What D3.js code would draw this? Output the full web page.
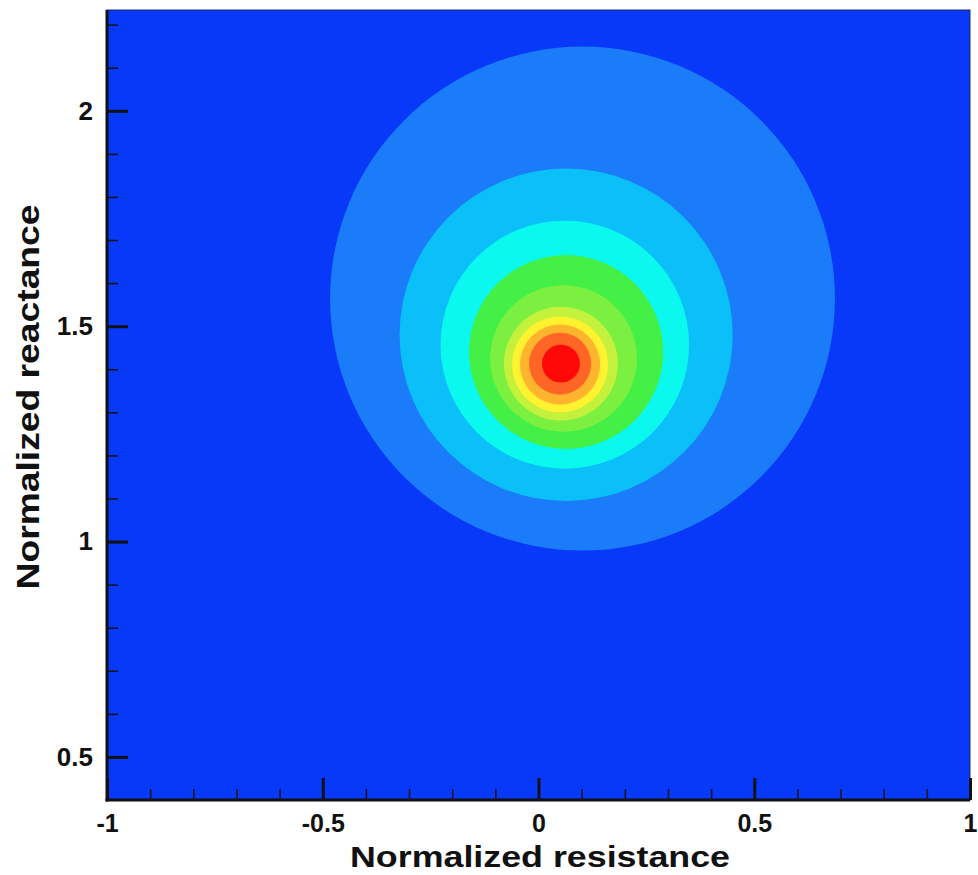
<!DOCTYPE html>
<html>
<head>
<meta charset="utf-8">
<script src="https://cdn.jsdelivr.net/npm/d3@7"></script>
<style>
  html, body { margin: 0; padding: 0; background: #fff; }
  text { font-family: "Liberation Sans", Arial, Helvetica, sans-serif; font-weight: bold; fill: #111; }
</style>
</head>
<body>
<svg id="chart" width="978" height="875"></svg>
<script>
// tick labels
var xTicks = [-1, -0.5, 0, 0.5, 1];
var yTicks = [0.5, 1, 1.5, 2];

// contour bands, outermost first (boundary circle of each level)
var bandColors = ["#1a7cf8", "#0bbff8", "#0af8ee", "#44f046", "#7cf040", "#c4f23c", "#fff22e", "#ffb42e", "#ff6626", "#ff0808"];
var bandCx     = [0.102, 0.064, 0.061, 0.064, 0.058, 0.052, 0.050, 0.050, 0.050, 0.052];
var bandCy     = [1.564, 1.480, 1.457, 1.440, 1.425, 1.413, 1.411, 1.411, 1.413, 1.413];
var bandR      = [0.585, 0.386, 0.288, 0.225, 0.170, 0.132, 0.111, 0.093, 0.072, 0.044];
var background = "#0838f8";

var svg = d3.select("#chart");

var x = d3.scaleLinear().domain([-1, 1]).range([107, 970]);
var y = d3.scaleLinear().domain([0.4, 2.234]).range([800, 10]);

var bands = bandColors.map(function(c, i) {
  return { color: c, cx: bandCx[i], cy: bandCy[i], r: bandR[i] };
});

var fmt = function(d) { return String(d); };

svg.append("defs").append("clipPath").attr("id", "plot")
  .append("rect")
  .attr("x", x(-1)).attr("y", y(2.234))
  .attr("width", x(1) - x(-1)).attr("height", y(0.4) - y(2.234));

var plot = svg.append("g").attr("clip-path", "url(#plot)");

plot.append("rect")
  .attr("x", x(-1)).attr("y", y(2.234))
  .attr("width", x(1) - x(-1)).attr("height", y(0.4) - y(2.234))
  .attr("fill", background);

plot.selectAll("ellipse.band")
  .data(bands)
  .enter().append("ellipse")
  .attr("class", "band")
  .attr("cx", function(d) { return x(d.cx); })
  .attr("cy", function(d) { return y(d.cy); })
  .attr("rx", function(d) { return x(d.cx + d.r) - x(d.cx); })
  .attr("ry", function(d) { return y(d.cy) - y(d.cy + d.r); })
  .attr("fill", function(d) { return d.color; });

// thin frame on top / right
svg.append("rect")
  .attr("x", x(-1)).attr("y", y(2.234))
  .attr("width", x(1) - x(-1)).attr("height", y(0.4) - y(2.234))
  .attr("fill", "none").attr("stroke", "#1b2a66").attr("stroke-width", 1);

// minor ticks every 0.1
var xMinor = d3.range(-10, 11).map(function(v) { return v / 10; });
var yMinor = d3.range(5, 23).map(function(v) { return v / 10; });

svg.append("g")
  .attr("transform", "translate(0," + y(0.4) + ")")
  .call(d3.axisBottom(x).tickValues(xMinor).tickSize(-11).tickFormat(""))
  .call(function(g) { g.select(".domain").remove(); })
  .selectAll("line").attr("stroke", "#111").attr("stroke-width", 1.5);

svg.append("g")
  .attr("transform", "translate(" + x(-1) + ",0)")
  .call(d3.axisLeft(y).tickValues(yMinor).tickSize(-11).tickFormat(""))
  .call(function(g) { g.select(".domain").remove(); })
  .selectAll("line").attr("stroke", "#111").attr("stroke-width", 1.5);

// major ticks + labels
var gx = svg.append("g")
  .attr("transform", "translate(0," + y(0.4) + ")")
  .call(d3.axisBottom(x).tickValues(xTicks).tickSize(-22).tickPadding(14).tickFormat(fmt));
gx.select(".domain").remove();
gx.selectAll("line").attr("stroke", "#111").attr("stroke-width", 3);
gx.selectAll("text").attr("font-size", 25);

var gy = svg.append("g")
  .attr("transform", "translate(" + x(-1) + ",0)")
  .call(d3.axisLeft(y).tickValues(yTicks).tickSize(-21).tickPadding(14).tickFormat(fmt));
gy.select(".domain").remove();
gy.selectAll("line").attr("stroke", "#111").attr("stroke-width", 3);
gy.selectAll("text").attr("font-size", 26);

// axis lines
svg.append("line")
  .attr("x1", x(-1)).attr("x2", x(-1)).attr("y1", y(2.234)).attr("y2", y(0.4) + 1.5)
  .attr("stroke", "#111").attr("stroke-width", 3);
svg.append("line")
  .attr("x1", x(-1) - 1.5).attr("x2", x(1)).attr("y1", y(0.4)).attr("y2", y(0.4))
  .attr("stroke", "#111").attr("stroke-width", 3);

// axis titles
svg.append("text")
  .attr("x", 540).attr("y", 867)
  .attr("text-anchor", "middle").attr("font-size", 30)
  .attr("textLength", 380).attr("lengthAdjust", "spacingAndGlyphs")
  .text("Normalized resistance");

svg.append("text")
  .attr("transform", "translate(39," + 397 + ") rotate(-90)")
  .attr("text-anchor", "middle").attr("font-size", 32)
  .attr("textLength", 385).attr("lengthAdjust", "spacingAndGlyphs")
  .text("Normalized reactance");
</script>
</body>
</html>
